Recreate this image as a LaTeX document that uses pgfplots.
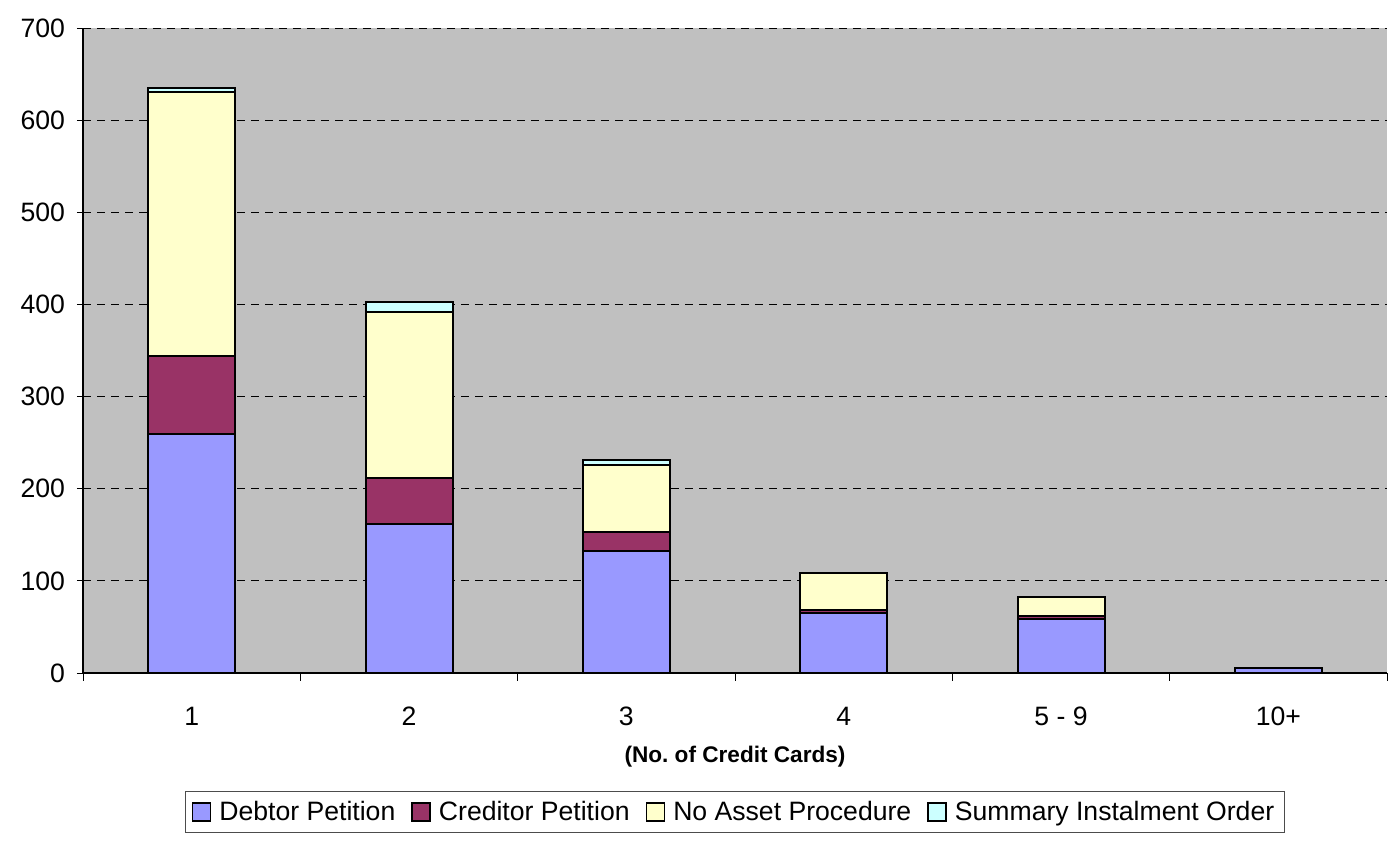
\documentclass[border=0pt]{standalone}
\usepackage{pgfplots}
\pgfplotsset{compat=1.18}
\usepackage{fontspec}
\setmainfont{Liberation Sans}
\frenchspacing
\definecolor{debtor}{HTML}{9999FF}
\definecolor{creditor}{HTML}{993366}
\definecolor{nap}{HTML}{FFFFCC}
\definecolor{sio}{HTML}{CCFFFF}
\definecolor{bggray}{HTML}{C0C0C0}
\begin{document}
\begin{tikzpicture}
\begin{axis}[
  name=ax,
  scale only axis,
  width=652pt, height=322.5pt,
  ybar stacked,
  bar width=43.5pt,
  xmin=-0.5, xmax=5.5,
  ymin=0, ymax=700,
  ytick={0,100,...,700},
  xtick={0,1,2,3,4,5},
  xticklabels={1,2,3,4,5 - 9,10+},
  minor xtick={-0.5,0.5,...,5.5},
  major x tick style={draw=none},
  minor x tick style={black, thin},
  minor tick length=4pt,
  y tick style={black, thin},
  major tick length=3pt,
  tick align=outside,
  axis x line*=bottom,
  axis y line*=left,
  axis line style={black, line width=0.6pt, -},
  axis background/.style={fill=bggray},
  ymajorgrids,
  major grid style={black, line width=0.4pt, dash pattern=on 4pt off 3pt},
  tick label style={font=\fontsize{13.3}{15}\selectfont},
  /pgf/number format/assume math mode=true,
  xticklabel style={yshift=-10.5pt},
  yticklabel style={xshift=-2.5pt},
  xlabel={\textbf{(No. of Credit Cards)}},
  xlabel style={font=\fontsize{11.3}{13}\selectfont, at={(axis description cs:0.5,-0.130)}, anchor=center},
  legend columns=4,
  legend style={at={(0.5,-0.2155)}, anchor=center, draw=black!70, line width=0.5pt,
    font=\fontsize{13.3}{15}\selectfont, inner xsep=3pt, inner ysep=2.5pt,
    /tikz/every even column/.append style={column sep=6pt},
    /tikz/every odd column/.append style={column sep=2pt}},
  legend image code/.code={\draw[#1, line width=0.8pt] (0pt,-4.5pt) rectangle (9pt,4.5pt);},
  every axis plot/.append style={draw=black, line width=1pt},
  clip=false,
]
\addplot[fill=debtor] coordinates {(0,259) (1,162) (2,132) (3,65) (4,59) (5,5)};
\addplot[fill=creditor] coordinates {(0,85) (1,50) (2,21) (3,3) (4,3) (5,0)};
\addplot[fill=nap] coordinates {(0,286) (1,180) (2,73) (3,41) (4,20) (5,0)};
\addplot[fill=sio] coordinates {(0,5) (1,11) (2,5) (3,0) (4,1) (5,0)};
\legend{Debtor Petition, Creditor Petition, No Asset Procedure, Summary Instalment Order}
\end{axis}
\path (ax.south west) ++(-41.5pt,-85pt) coordinate (bbA);
\path (ax.north east) ++(3pt,14pt) coordinate (bbB);
\path (bbA) rectangle (bbB);
\end{tikzpicture}
\end{document}
